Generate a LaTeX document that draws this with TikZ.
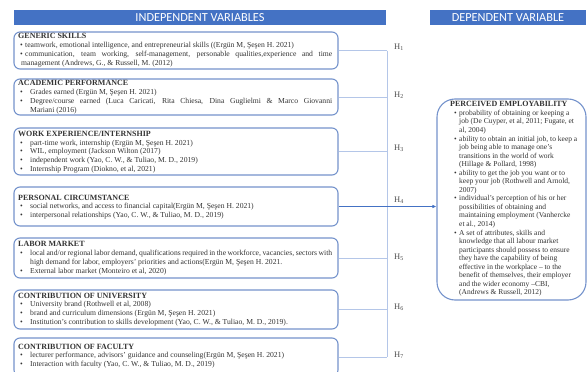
\documentclass[tikz,border=0pt]{standalone}
\usepackage{fontspec}
\setmainfont{Liberation Serif}
\newfontfamily\hdrfont{Carlito}
\usetikzlibrary{calc,arrows.meta}

\definecolor{hdrblue}{HTML}{4472C4}
\definecolor{boxline}{HTML}{7593CC}
\definecolor{linkline}{HTML}{B4C6E8}
\definecolor{bodytext}{HTML}{333333}

% bullet and continuation indents for the factor lists
\newcommand{\Bl}{\hspace*{2pt}\makebox[10pt][l]{\textbullet}}
\newcommand{\Bs}{\hspace*{2pt}\makebox[5pt][l]{\textbullet}}
\newcommand{\Cl}{\hspace*{12pt}}
\newcommand{\Rb}{\hspace*{4pt}\makebox[5pt][l]{\textbullet}}
\newcommand{\Rc}{\hspace*{9pt}}
% a line stretched to the full justified width
\newcommand{\jl}[2]{\makebox[#1][s]{#2}}
% box heading
\newcommand{\bt}[1]{{\fontsize{8}{8.8}\selectfont\bfseries #1}}

\tikzset{
  hdr/.style={fill=hdrblue, text=white, inner sep=0pt, minimum height=15pt,
    font=\hdrfont\fontsize{12.3}{14}\selectfont},
  lbox/.style={draw=boxline, line width=1.1pt, rounded corners=6pt,
    minimum width=324pt, inner sep=0pt},
  rbox/.style={draw=boxline, line width=1.1pt, rounded corners=18pt,
    minimum width=149pt, minimum height=201pt, inner sep=0pt},
  ltext/.style={anchor=west, align=left, inner sep=0pt, text=bodytext,
    font=\fontsize{7.65}{8.8}\selectfont},
  rtext/.style={anchor=west, align=left, inner sep=0pt, text=bodytext,
    font=\fontsize{7.5}{8.55}\selectfont},
  link/.style={draw=linkline, line width=0.8pt},
  mainlink/.style={draw=hdrblue, line width=0.9pt, -{Latex[length=4pt,width=3.5pt]}},
  hlab/.style={anchor=west, inner sep=0pt, text=black!70,
    font=\fontsize{8.5}{10}\selectfont}
}

\begin{document}
\begin{tikzpicture}[x=1pt,y=-1pt]
\useasboundingbox (0,0) rectangle (587,372);
\clip (0,0) rectangle (587,372);
\fill[white] (0,0) rectangle (587,372);

% column headers
\node[hdr, minimum width=372pt] (hind) at (200,17.5) {INDEPENDENT VARIABLES};
\node[hdr, minimum width=156pt] (hdep) at (508,17.5) {DEPENDENT VARIABLE};

% independent variable boxes
\node[lbox, minimum height=37pt] (b1) at (176,50.5) {};
\node[lbox, minimum height=36pt] (b2) at (176,97) {};
\node[lbox, minimum height=47pt] (b3) at (176,151.5) {};
\node[lbox, minimum height=39pt] (b4) at (176,206.5) {};
\node[lbox, minimum height=40pt] (b5) at (176,258) {};
\node[lbox, minimum height=39pt] (b6) at (176,309.5) {};
\node[lbox, minimum height=38pt] (b7) at (176,357) {};

\node[ltext] (t1) at (18,50) {%
  \bt{GENERIC SKILLS}\\
  \Bs teamwork, emotional intelligence, and entrepreneurial skills ((Ergün M, Şeşen H. 2021)\\
  \Bs\jl{307pt}{communication, team working, self-management, personable qualities,experience and time}\\
  \hspace*{3pt}management (Andrews, G., \& Russell, M. (2012)};

\node[ltext] (t2) at (18,97) {%
  \bt{ACADEMIC PERFORMANCE}\\
  \Bl Grades earned (Ergün M, Şeşen H. 2021)\\
  \Bl\jl{302pt}{Degree/course earned (Luca Caricati, Rita Chiesa, Dina Guglielmi \& Marco Giovanni}\\
  \Cl Mariani (2016)};

\node[ltext] (t3) at (18,152) {%
  \bt{WORK EXPERIENCE/INTERNSHIP}\\
  \Bl part-time work, internship (Ergün M, Şeşen H. 2021)\\
  \Bl WIL, employment (Jackson Wilton (2017)\\
  \Bl independent work (Yao, C. W., \& Tuliao, M. D., 2019)\\
  \Bl Internship Program (Diokno, et al, 2021)};

\node[ltext] (t4) at (18,207) {%
  \bt{PERSONAL CIRCUMSTANCE}\\
  \Bl social networks, and access to financial capital(Ergün M, Şeşen H. 2021)\\
  \Bl interpersonal relationships (Yao, C. W., \& Tuliao, M. D., 2019)};

\node[ltext] (t5) at (18,258) {%
  \bt{LABOR MARKET}\\
  \Bl\jl{302pt}{local and/or regional labor demand, qualifications required in the workforce, vacancies, sectors with}\\
  \Cl high demand for labor, employers' priorities and actions(Ergün M, Şeşen H. 2021.\\
  \Bl External labor market (Monteiro et al, 2020)};

\node[ltext] (t6) at (18,309.5) {%
  \bt{CONTRIBUTION OF UNIVERSITY}\\
  \Bl University brand (Rothwell et al, 2008)\\
  \Bl brand and curriculum dimensions (Ergün M, Şeşen H. 2021)\\
  \Bl Institution's contribution to skills development (Yao, C. W., \& Tuliao, M. D., 2019).};

\node[ltext] (t7) at (18,356) {%
  \bt{CONTRIBUTION OF FACULTY}\\
  \Bl lecturer performance, advisors' guidance and counseling(Ergün M, Şeşen H. 2021)\\
  \Bl Interaction with faculty (Yao, C. W., \& Tuliao, M. D., 2019)};

% dependent variable box
\node[rbox] (rb) at (511.5,199.5) {};
\node[rtext] (rt) at (450,199) {%
  \bt{PERCEIVED EMPLOYABILITY}\\
  \Rb probability of obtaining or keeping a\\
  \Rc job (De Cuyper, et al, 2011; Fugate, et\\
  \Rc al, 2004)\\
  \Rb ability to obtain an initial job, to keep a\\
  \Rc job being able to manage one's\\
  \Rc transitions in the world of work\\
  \Rc (Hillage \& Pollard, 1998)\\
  \Rb ability to get the job you want or to\\
  \Rc keep your job (Rothwell and Arnold,\\
  \Rc 2007)\\
  \Rb individual's perception of his or her\\
  \Rc possibilities of obtaining and\\
  \Rc maintaining employment (Vanhercke\\
  \Rc et al., 2014)\\
  \Rb A set of attributes, skills and\\
  \Rc knowledge that all labour market\\
  \Rc participants should possess to ensure\\
  \Rc they have the capability of being\\
  \Rc effective in the workplace – to the\\
  \Rc benefit of themselves, their employer\\
  \Rc and the wider economy –CBI,\\
  \Rc (Andrews \& Russell, 2012)};

% hypothesis connectors
\coordinate (vx) at (387,0);
\foreach \i in {1,2,3,5,6,7}{
  \draw[link] (b\i.east) -- (b\i.east -| vx);
}
\draw[link] (b1.east -| vx) -- (b7.east -| vx);
\draw[mainlink] (b4.east) -- (b4.east -| rb.west);

% hypothesis labels
\node[hlab] (h1) at ($(b1.east -| vx)+(7,-3)$) {H\textsubscript{1}};
\node[hlab] (h2) at ($(b2.east -| vx)+(7,-2)$) {H\textsubscript{2}};
\node[hlab] (h3) at ($(b3.east -| vx)+(7,-3)$) {H\textsubscript{3}};
\node[hlab] (h4) at ($(b4.east -| vx)+(7,-6)$) {H\textsubscript{4}};
\node[hlab] (h5) at ($(b5.east -| vx)+(7,-1)$) {H\textsubscript{5}};
\node[hlab] (h6) at ($(b6.east -| vx)+(7,-2)$) {H\textsubscript{6}};
\node[hlab] (h7) at ($(b7.east -| vx)+(7,-2)$) {H\textsubscript{7}};
\end{tikzpicture}
\end{document}
